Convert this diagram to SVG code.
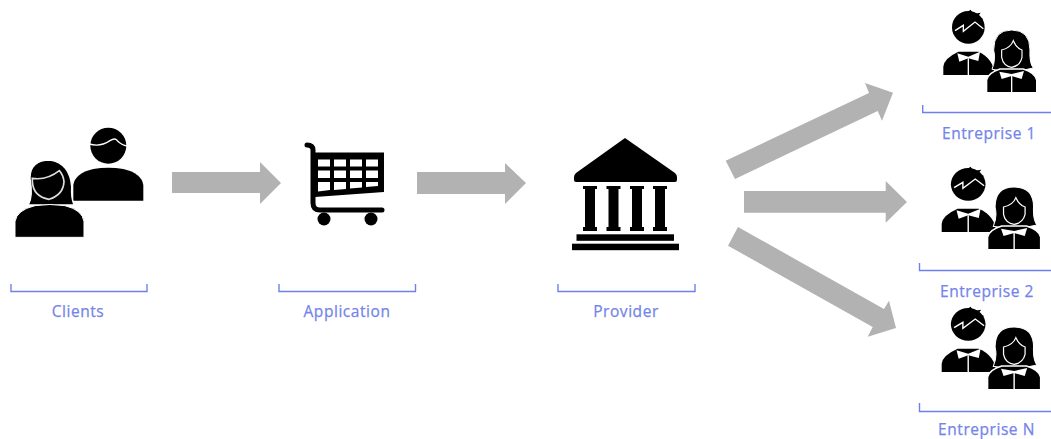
<svg xmlns="http://www.w3.org/2000/svg" xmlns:xlink="http://www.w3.org/1999/xlink" width="1051" height="439" viewBox="0 0 1051 439">
<style>
.lbl{font-family:"Open Sans","Noto Sans","DejaVu Sans",sans-serif;font-size:15.500px;letter-spacing:.55px;fill:#7484ea;text-anchor:middle;stroke:#7484ea;stroke-width:.25}
.brk{fill:none;stroke:#6f80ee;stroke-width:1.400}
.arw{fill:#b2b2b2}
.wl{fill:none;stroke:#fff;stroke-width:4}
.ic{filter:url(#soft)}
</style>
<defs>
<filter id="soft" x="-5%" y="-5%" width="110%" height="110%"><feGaussianBlur stdDeviation="0.45"/></filter>
<g id="couple">
<circle cx="205" cy="82" r="49" fill="#000"/>
<polygon points="180,50 212,29 219,42 242,38 232,52 249,56 240,80" fill="#000"/>
<polyline class="wl" points="165,92 190,76 190,94 225,66 250,86"/>
<path d="M130,225V200Q132,175 175,155H235Q280,175 285,225Z" fill="#000"/>
<polygon points="172,160 205,170 240,155 235,183 205,175 178,185" fill="#fff"/>
<path class="wl" d="M205,175V225"/>
<path d="M276,208Q288,180 281,150Q281,90 335,90Q390,90 390,150Q388,190 400,204L335,218Z" fill="#000" stroke="#fff" stroke-width="3"/>
<path d="M305,150Q332,144 340,122Q350,145 366,150V172Q360,198 335,202Q310,198 305,172Z" fill="#000" stroke="#fff" stroke-width="3.500"/>
<path d="M260,278V240Q265,218 300,207H370Q405,218 410,240V278Z" fill="#000" stroke="#fff" stroke-width="4"/>
<polygon points="298,215 335,222 372,213 365,237 335,228 305,237" fill="#fff"/>
<path class="wl" d="M335,228V278"/>
</g>
</defs>
<rect width="1051" height="439" fill="#fff"/>
<g id="connectors" class="ic">
<polygon class="arw" points="172,172 260,172 260,162 281,183 260,204 260,193 172,193"/>
<polygon class="arw" points="417,172 505,172 505,163 526,183 505,204 505,194 417,194"/>
<polygon class="arw" points="725.700,160.700 869,93 865,83 893,92.700 882,120.700 877.700,111 735,179"/>
<polygon class="arw" points="744,191 885.700,191 885.700,181 907,202 885.700,222.700 885.700,212.700 744,212.700"/>
<polygon class="arw" points="738,227 884,309 889,300.700 896,328 867.700,336.700 872.700,327 728,245.700"/>
</g>
<g id="clients">
<g class="ic" transform="translate(0,110) scale(0.3333)">
<circle cx="325" cy="107" r="54" fill="#000"/>
<path d="M268,102Q300,112 330,92Q345,82 352,92Q365,105 382,108" class="wl"/>
<path d="M220,272V225Q225,190 280,177Q325,170 370,177Q425,190 430,225V272Z" fill="#000"/>
<path d="M85,285Q100,260 90,205Q90,150 150,150Q210,160 215,230Q213,265 222,285Z" fill="#000" stroke="#fff" stroke-width="4"/>
<path d="M97,205Q140,212 178,182Q190,195 192,215Q190,255 147,268Q100,260 97,215Z" fill="#000" stroke="#ddd" stroke-width="5"/>
<path d="M45,382V335Q50,300 105,287Q150,280 195,287Q248,300 252,335V382Z" fill="#000" stroke="#fff" stroke-width="3"/>
</g>
<path class="brk" d="M11,284V291.500H147V284"/>
<text class="lbl" x="78" y="317">Clients</text>
</g>
<g id="application">
<g class="ic">
<path d="M307,145Q313,145 313,150V203Q313,210 320,210H382" fill="none" stroke="#000" stroke-width="5" stroke-linecap="round"/>
<polygon points="315,152.500 384,152.500 384,192 315,197" fill="#000"/>
<g fill="#fff">
<rect x="318" y="159.500" width="12" height="7"/><rect x="334" y="159.500" width="12" height="7"/><rect x="350" y="159.500" width="12" height="7"/><rect x="366" y="159.500" width="12" height="7"/>
<rect x="318" y="170.500" width="12" height="7.500"/><rect x="334" y="170.500" width="12" height="7.500"/><rect x="350" y="170.500" width="12" height="7.500"/><rect x="366" y="170.500" width="12" height="7.500"/>
<polygon points="318,182 330,182 330,190 318,191.500"/><polygon points="334,182 346,182 346,189 334,190"/><polygon points="350,182 362,182 362,187.500 350,188.500"/><polygon points="366,182 378,182 378,186 366,187"/>
</g>
<circle cx="324" cy="219" r="6.500" fill="#000"/>
<circle cx="371" cy="219" r="6.500" fill="#000"/>
</g>
<path class="brk" d="M279,284V291.500H415.500V284"/>
<text class="lbl" x="347" y="317">Application</text>
</g>
<g id="provider">
<g class="ic" fill="#000">
<path d="M625,138 L675,173Q677,175 677,177V180Q677,182 675,182H576Q574,182 574,180V177Q574,175 576,173Z"/>
<path d="M583,186H597V189H595V227H597V231H583V227H585V189H583Z"/>
<path d="M606.500,186H620.500V189H618.500V227H620.500V231H606.500V227H608.500V189H606.500Z"/>
<path d="M630,186H644V189H642V227H644V231H630V227H632V189H630Z"/>
<path d="M653,186H667V189H665V227H667V231H653V227H655V189H653Z"/>
<rect x="576.500" y="234.300" width="97.500" height="6.500"/>
<rect x="572" y="243.700" width="107" height="6.500"/>
</g>
<path class="brk" d="M558,284V291.500H695V284"/>
<text class="lbl" x="626" y="317">Provider</text>
</g>
<g id="entreprise-1">
<use class="ic" xlink:href="#couple" href="#couple" transform="translate(900,0) scale(0.3333)"/>
<path class="brk" d="M922.700,105V112.500H1051"/>
<text class="lbl" x="989" y="139">Entreprise 1</text>
</g>
<g id="entreprise-2">
<use class="ic" xlink:href="#couple" href="#couple" transform="translate(941.700,207) scale(0.3533,0.3333) translate(-130,-150)"/>
<path class="brk" d="M919.500,263V270.500H1051"/>
<text class="lbl" x="987" y="297">Entreprise 2</text>
</g>
<g id="entreprise-n">
<use class="ic" xlink:href="#couple" href="#couple" transform="translate(941.700,347) scale(0.3533,0.3333) translate(-130,-150)"/>
<path class="brk" d="M919.500,403V411.500H1051"/>
<text class="lbl" x="986.500" y="434.500">Entreprise N</text>
</g>
</svg>
